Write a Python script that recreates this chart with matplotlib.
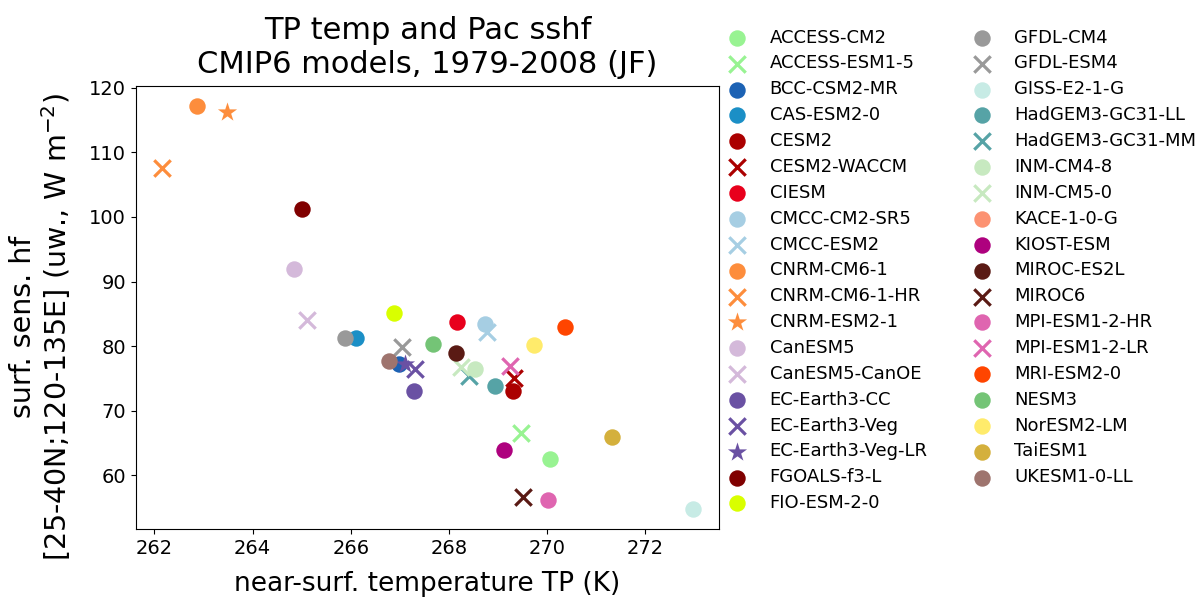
"""Scatter of CMIP6 JF near-surface temperature vs Pacific sensible heat flux."""

import matplotlib
matplotlib.use("Agg")
import matplotlib.pyplot as plt
import numpy as np

MODELS = [
    "ACCESS-CM2", "ACCESS-ESM1-5", "BCC-CSM2-MR", "CAS-ESM2-0", "CESM2",
    "CESM2-WACCM", "CIESM", "CMCC-CM2-SR5", "CMCC-ESM2", "CNRM-CM6-1",
    "CNRM-CM6-1-HR", "CNRM-ESM2-1", "CanESM5", "CanESM5-CanOE", "EC-Earth3-CC",
    "EC-Earth3-Veg", "EC-Earth3-Veg-LR", "FGOALS-f3-L", "FIO-ESM-2-0",
    "GFDL-CM4", "GFDL-ESM4", "GISS-E2-1-G", "HadGEM3-GC31-LL", "HadGEM3-GC31-MM",
    "INM-CM4-8", "INM-CM5-0", "KACE-1-0-G", "KIOST-ESM", "MIROC-ES2L",
    "MIROC6", "MPI-ESM1-2-HR", "MPI-ESM1-2-LR", "MRI-ESM2-0", "NESM3",
    "NorESM2-LM", "TaiESM1", "UKESM1-0-LL",
]

# near-surface temperature TP (K); KACE-1-0-G has no point on the plot
TEMP = [
    270.05, 269.47, 266.98, 266.11, 269.31,
    269.33, 268.16, 268.74, 268.77, 262.86,
    262.16, 263.47, 264.85, 265.11, 267.29,
    267.31, 267.10, 265.00, 266.88,
    265.88, 267.04, 272.96, 268.94, 268.40,
    268.53, 268.25, np.nan, 269.13, 268.14,
    269.50, 270.01, 269.24, 270.36, 267.67,
    269.74, 271.33, 266.78,
]

# surface sensible heat flux, 25-40N;120-135E (W m-2)
SHF = [
    62.5, 66.5, 77.3, 81.3, 73.1,
    75.0, 83.7, 83.4, 82.2, 117.2,
    107.6, 116.3, 91.9, 84.0, 73.1,
    76.4, 77.2, 101.3, 85.2,
    81.2, 79.9, 54.8, 73.8, 75.3,
    76.4, 76.8, np.nan, 63.9, 78.9,
    56.6, 56.1, 76.9, 82.9, 80.4,
    80.2, 65.9, 77.7,
]

MARKERS = [
    "o", "x", "o", "o", "o",
    "x", "o", "o", "x", "o",
    "x", "*", "o", "x", "o",
    "x", "*", "o", "o",
    "o", "x", "o", "o", "x",
    "o", "x", "o", "o", "o",
    "x", "o", "x", "o", "o",
    "o", "o", "o",
]

COLORS = [
    "#98f392", "#98f392", "#1c62b4", "#1b8fc6", "#ab0000",
    "#ab0000", "#e8001c", "#a6cee3", "#a6cee3", "#fd8d3c",
    "#fd8d3c", "#fd8d3c", "#d4b9da", "#d4b9da", "#6a51a3",
    "#6a51a3", "#6a51a3", "#800000", "#d9ff00",
    "#999999", "#999999", "#c7ebe5", "#56a3a6", "#56a3a6",
    "#c7e9c0", "#c7e9c0", "#fc9272", "#ae017e", "#5a1a14",
    "#5a1a14", "#df65b0", "#df65b0", "#ff4500", "#74c476",
    "#ffeb6b", "#d4b03c", "#9e746e",
]

fig = plt.figure(figsize=(11.95, 5.99), dpi=100)
ax = fig.add_axes([0.1136, 0.1169, 0.4881, 0.7400])

for name, x, y, m, c in zip(MODELS, TEMP, SHF, MARKERS, COLORS):
    size = 210 if m == "*" else 140
    lw = 2.3 if m == "x" else 0
    ax.scatter([x], [y], marker=m, s=size, color=c, linewidths=lw, label=name)

ax.set_title("TP temp and Pac sshf\nCMIP6 models, 1979-2008 (JF)", fontsize=22, pad=9.5)
ax.set_xlabel("near-surf. temperature TP (K)", fontsize=19, labelpad=9.5)
ax.set_ylabel("surf. sens. hf\n[25-40N;120-135E] (uw., W m$^{-2}$)", fontsize=20.5,
              linespacing=1.05)
ax.yaxis.set_label_coords(-0.108, 0.456)
ax.tick_params(labelsize=14)
ax.set_xticks(np.arange(262, 273, 2))
ax.set_yticks(np.arange(60, 121, 10))

ax.legend(loc="upper left", bbox_to_anchor=(1.0, 1.129), ncol=2, frameon=False,
          borderpad=0, borderaxespad=0, fontsize=13, labelspacing=0.436,
          scatterpoints=1)

fig.savefig("out.png", dpi=100)
